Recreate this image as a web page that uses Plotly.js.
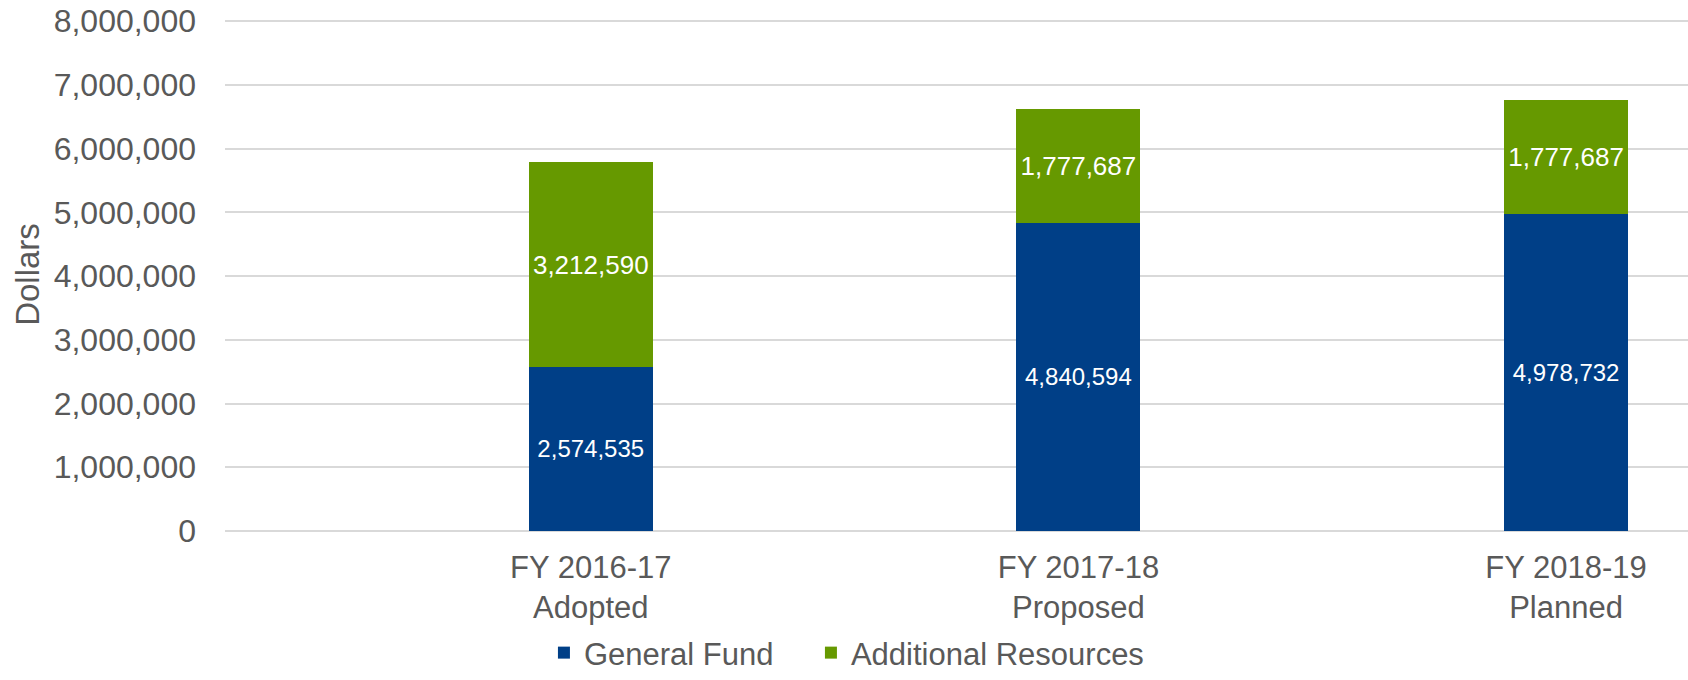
<!DOCTYPE html>
<html>
<head>
<meta charset="utf-8">
<script src="https://cdn.plot.ly/plotly-3.0.1.min.js"></script>
<style>
  html, body { margin: 0; padding: 0; background: #fff; }
  #chart { width: 1688px; height: 680px; }
</style>
</head>
<body>
<div id="chart"></div>
<script>
// Stacked budget bars: General Fund + Additional Resources per fiscal year.

const categories = ['FY 2016-17<br>Adopted', 'FY 2017-18<br>Proposed', 'FY 2018-19<br>Planned'];
const generalFund = [2574535, 4840594, 4978732];
const additionalResources = [3212590, 1777687, 1777687];
const yTicks = [0, 1000000, 2000000, 3000000, 4000000, 5000000, 6000000, 7000000, 8000000];

const BLUE = '#003F87';
const GREEN = '#669900';
const GREY = '#595959';
const FONT = 'Liberation Sans, Arial, sans-serif';

const fmt = v => v.toLocaleString('en-US');

const traces = [
    {
        type: 'bar', name: 'General Fund', legend: 'legend',
        x: categories, y: generalFund,
        text: generalFund.map(fmt), textposition: 'inside',
        insidetextanchor: 'middle', textangle: 0, constraintext: 'none',
        insidetextfont: { color: '#ffffff', size: 24, family: FONT },
        marker: { color: BLUE },
        width: 0.254, hoverinfo: 'skip',
    },
    {
        type: 'bar', name: 'Additional Resources', legend: 'legend2',
        x: categories, y: additionalResources,
        text: additionalResources.map(fmt), textposition: 'inside',
        insidetextanchor: 'middle', textangle: 0, constraintext: 'none',
        insidetextfont: { color: '#ffffff', size: 26, family: FONT },
        marker: { color: GREEN },
        width: 0.254, hoverinfo: 'skip',
    },
];

// one legend per entry so the gap between them matches the original
const legendBase = {
    orientation: 'h', xanchor: 'left', y: -0.2904, yanchor: 'bottom',
    font: { size: 31, color: GREY }, itemwidth: 30,
    bgcolor: 'rgba(0,0,0,0)',
};

const layout = {
    width: 1688, height: 680,
    barmode: 'stack',
    paper_bgcolor: '#ffffff',
    plot_bgcolor: '#ffffff',
    font: { family: FONT, color: GREY, size: 31 },
    margin: { l: 225, r: 0, t: 18, b: 149, autoexpand: false },
    showlegend: true,
    legend: { ...legendBase, x: 0.218 },
    legend2: { ...legendBase, x: 0.4005 },
    xaxis: {
        type: 'category', range: [-0.75, 2.25], automargin: false,
        showgrid: false, zeroline: false, showline: false, ticks: '',
        tickfont: { size: 31, color: GREY },
        ticklabelstandoff: 15,
        fixedrange: true,
    },
    yaxis: {
        // a little headroom so the 8,000,000 gridline is not clipped at the edge
        range: [0, 8050000], automargin: false,
        tickvals: yTicks, ticktext: yTicks.map(fmt),
        showgrid: true, gridcolor: '#D9D9D9', gridwidth: 2,
        zeroline: true, zerolinecolor: '#D9D9D9', zerolinewidth: 2,
        showline: false, ticks: '',
        tickfont: { size: 32, color: GREY },
        ticklabelstandoff: 28,
        title: { text: 'Dollars', font: { size: 33, color: GREY }, standoff: 4 },
        fixedrange: true,
    },
};

Plotly.newPlot('chart', traces, layout, { displayModeBar: false, staticPlot: true });
</script>
</body>
</html>
